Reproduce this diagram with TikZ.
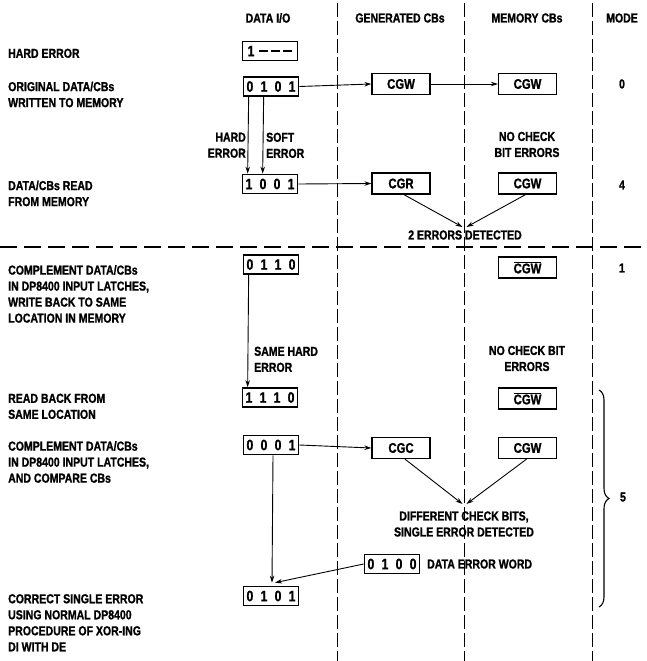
\documentclass[tikz,border=0pt]{standalone}
\usepackage{fontspec}
\setmainfont{Liberation Sans}[FakeStretch=0.81, BoldFont={Liberation Sans Bold}, BoldFeatures={FakeBold=1.2}]
\usetikzlibrary{arrows.meta,decorations.pathreplacing}
\tikzset{
  txt/.style={font=\bfseries\fontsize{13}{16}\selectfont, inner sep=0pt},
  lbl/.style={txt, align=left, anchor=north west},
  wordbox/.style={draw, line width=1.7pt, minimum width=55pt, minimum height=19pt, inner sep=0pt, font=\bfseries\fontsize{15}{15}\selectfont},
  cbbox/.style={draw, line width=1.3pt, minimum width=58pt, minimum height=21pt, inner sep=0pt, font=\bfseries\fontsize{14}{14}\selectfont},
  arr/.style={-{Stealth[length=7pt,width=4.5pt]}, line width=0.9pt},
  vdash/.style={line width=1pt, dash pattern=on 14pt off 4pt},
  hdash/.style={line width=1.2pt, dash pattern=on 17pt off 7pt},
}
\newcommand\bitsq[4]{#1\kern7.3pt#2\kern7.3pt#3\kern7.3pt#4}
\newcommand\cgwbar{$\overline{\hbox{CGW}}$}
\begin{document}
\begin{tikzpicture}[x=1pt,y=-1pt]
\useasboundingbox (0,0) rectangle (647,661);
% column separators
\draw[vdash] (337,3) -- (337,661);
\draw[vdash] (464,3) -- (464,661);
\draw[vdash] (592,3) -- (592,661);
\draw[hdash] (0,247) -- (647,247);
% headers
\node[txt] (hdata) at (268,18) {DATA I/O};
\node[txt] (hgen) at (400,18) {GENERATED CBs};
\node[txt] (hmem) at (527,18) {MEMORY CBs};
\node[txt] (hmode) at (622,18) {MODE};
% left labels
\node[lbl] (l1) at (8,48.5) {HARD ERROR};
\node[lbl] (l2) at (8,81.5) {ORIGINAL DATA/CBs\\WRITTEN TO MEMORY};
\node[lbl] (l3) at (8,180.5) {DATA/CBs READ\\FROM MEMORY};
\node[lbl] (l4) at (8,265) {COMPLEMENT DATA/CBs\\IN DP8400 INPUT LATCHES,\\WRITE BACK TO SAME\\LOCATION IN MEMORY};
\node[lbl] (l5) at (8,393.5) {READ BACK FROM\\SAME LOCATION};
\node[lbl] (l6) at (8,441) {COMPLEMENT DATA/CBs\\IN DP8400 INPUT LATCHES,\\AND COMPARE CBs};
\node[lbl] (l7) at (8,594) {CORRECT SINGLE ERROR\\USING NORMAL DP8400\\PROCEDURE OF XOR-ING\\DI WITH DE};
% data words
\node[wordbox] (w1) at (270,51) {1\kern5pt\rule[4pt]{9pt}{1.8pt}\kern3pt\rule[4pt]{9pt}{1.8pt}\kern3pt\rule[4pt]{9pt}{1.8pt}};
\node[wordbox] (w2) at (271,86.5) {\bitsq0101};
\node[wordbox] (w3) at (270,184) {\bitsq1001};
\node[wordbox] (w4) at (271,264.5) {\bitsq0110};
\node[wordbox] (w5) at (270,397.5) {\bitsq1110};
\node[wordbox] (w6) at (271,445) {\bitsq0001};
\node[wordbox] (w7) at (271,596) {\bitsq0101};
\node[wordbox] (w8) at (392,564) {\bitsq0100};
% check-bit boxes
\node[cbbox] (g2) at (401,84) {CGW};
\node[cbbox] (m2) at (527.5,84) {CGW};
\node[cbbox] (g3) at (401,183.5) {CGR};
\node[cbbox] (m3) at (527.5,183.5) {CGW};
\node[cbbox] (m4) at (527.5,267.5) {\cgwbar};
\node[cbbox] (m5) at (527.5,398.5) {\cgwbar};
\node[cbbox] (g6) at (401,448) {CGC};
\node[cbbox] (m6) at (527.5,448) {CGW};
% modes
\node[txt] (mo0) at (622,84) {0};
\node[txt] (mo4) at (622,185) {4};
\node[txt] (mo1) at (622,268) {1};
\node[txt] (mo5) at (623,497) {5};
% annotations
\node[txt, align=right, anchor=north east] (hard) at (246,132.5) {HARD\\ERROR};
\node[txt, align=left, anchor=north west] (soft) at (266,132.5) {SOFT\\ERROR};
\node[txt, align=center] (nocb1) at (527,144.5) {NO CHECK\\BIT ERRORS};
\node[txt] (err2) at (465,235) {2 ERRORS DETECTED};
\node[txt, align=left, anchor=north west] (same) at (254,346.5) {SAME HARD\\ERROR};
\node[txt, align=center] (nocb2) at (527,358.5) {NO CHECK BIT\\ERRORS};
\node[txt, align=center] (diff) at (464,524) {DIFFERENT CHECK BITS,\\SINGLE ERROR DETECTED};
\node[txt, anchor=west] (dew) at (427,564) {DATA ERROR WORD};
% connectors
\coordinate (c1) at (464.5,227);
\coordinate (c2) at (464.5,504);
\draw[arr] (w2.east) -- (g2.west);
\draw[arr] (g2.east) -- (m2.west);
\draw[arr] ([xshift=6pt]w2.south west) -- ([xshift=6pt]w3.north west);
\draw[arr] ([xshift=21pt]w2.south west) -- ([xshift=21pt]w3.north west);
\draw[arr] (w3.east) -- (g3.west);
\draw[arr] ([xshift=3pt]g3.south) -- ([xshift=-2pt]c1);
\draw[arr] ([xshift=-2pt]m3.south) -- ([xshift=2pt]c1);
\draw[arr] ([xshift=6pt]w4.south west) -- ([xshift=6pt]w5.north west);
\draw[arr] (w6.east) -- (g6.west);
\draw[arr] ([xshift=4pt]g6.south) -- ([xshift=-2pt]c2);
\draw[arr] ([xshift=-1pt]m6.south) -- ([xshift=2pt]c2);
\draw[arr] ([xshift=2pt]w6.south) -- ([xshift=1pt,yshift=3pt]w7.north);
\draw[arr] (w8.west) -- ([xshift=4pt,yshift=3pt]w7.north);
% brace
\draw[decorate, decoration={brace, amplitude=10pt}, line width=1.1pt] (599,390) -- (599,607);
\end{tikzpicture}
\end{document}
